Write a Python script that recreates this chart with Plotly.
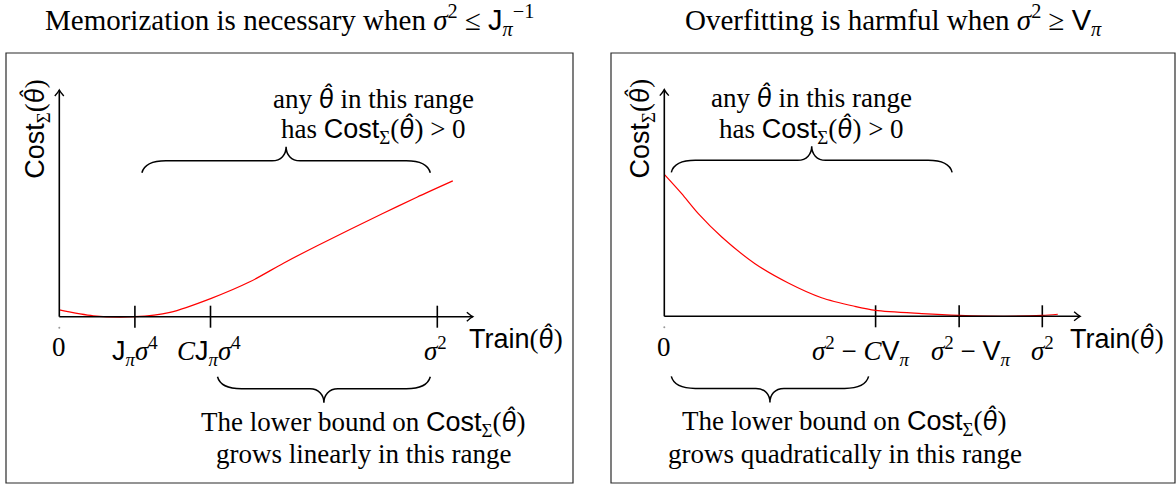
import plotly.graph_objects as go

# ---------------- data ----------------
# Left panel ("Memorization is necessary"): Train axis scaled so that sigma^2 = 1
left_train = [0.0, 0.09, 0.20, 0.293, 0.402, 0.504, 0.593, 0.681, 0.857, 0.946, 1.041]
left_cost = [0.030, 0.004, 0.0, 0.019, 0.081, 0.154, 0.236, 0.312, 0.456, 0.527, 0.599]
left_tick_vals = [0.0, 0.2, 0.4, 1.0]
# Right panel ("Overfitting is harmful")
right_train = [0.0, 0.046, 0.090, 0.152, 0.240, 0.328, 0.416, 0.504, 0.559, 0.681, 0.780, 0.901, 1.0, 1.041]
right_cost = [0.626, 0.541, 0.453, 0.350, 0.232, 0.147, 0.082, 0.044, 0.026, 0.012, 0.004, 0.0, 0.004, 0.009]
right_tick_vals = [0.0, 0.559, 0.780, 1.0]

SANS = "<span style=\"font-family:'Liberation Sans'\">%s</span>"
TH = "<span style=\"font-family:'Lato'\"><i>θ\u0302</i></span>"
left_tick_text = ["0",
                  SANS % "J" + "<sub><i>π</i></sub><i>σ</i><sup>4</sup>",
                  "<i>C</i>" + SANS % "J" + "<sub><i>π</i></sub><i>σ</i><sup>4</sup>",
                  "<i>σ</i><sup>2</sup>"]
right_tick_text = ["0",
                   "<i>σ</i><sup>2</sup> − <i>C</i>" + SANS % "V" + "<sub><i>π</i></sub>",
                   "<i>σ</i><sup>2</sup> − " + SANS % "V" + "<sub><i>π</i></sub>",
                   "<i>σ</i><sup>2</sup>"]
left_label_shift = [0, 0, -2, -2]
right_label_shift = [0, -15, 12, 0]

titles = ["Memorization is necessary when <i>σ</i><sup>2</sup> ≤ " + SANS % "J" + "<sub><i>π</i></sub><sup>−1</sup>",
          "Overfitting is harmful when <i>σ</i><sup>2</sup> ≥ " + SANS % "V" + "<sub><i>π</i></sub>"]
upper_lines = ["any " + TH + " in this range",
               "has " + SANS % "Cost" + "<sub>Σ</sub>(" + TH + ") > 0"]
lower_lines = [["The lower bound on " + SANS % "Cost" + "<sub>Σ</sub>(" + TH + ")", "grows linearly in this range"],
               ["The lower bound on " + SANS % "Cost" + "<sub>Σ</sub>(" + TH + ")", "grows quadratically in this range"]]
ylabel = SANS % "Cost" + "<sub>Σ</sub>(" + TH + ")"
xlabel = SANS % "Train" + "(" + TH + ")"

# brace ranges (in Train units), referring to the ticks
left_upper_brace = (left_tick_vals[1], left_tick_vals[3])
left_lower_brace = (left_tick_vals[2], left_tick_vals[3])
right_upper_brace = (right_tick_vals[0], right_tick_vals[2])
right_lower_brace = (right_tick_vals[0], right_tick_vals[1])

# ---------------- layout constants ----------------
W, H = 1176, 487
PXX, PXY = 378.0, 226.7          # pixels per data unit
FONT = "Liberation Serif"
FS = 27
TITLE_FS = 29
boxes = [(6, 53, 573, 483), (611, 53, 1175, 483)]
origins = [(59.3, 316.7), (664.3, 316.3)]
arrow_x = [1.094, 1.1]
arrow_y = 1.0
tick_half = 11 / PXY
brace_inset = 7 / PXX
upper_y = [0.969, 0.824]
lower_y = [-0.465, -0.606]

fig = go.Figure()

panels = [
    dict(train=left_train, cost=left_cost, ticks=left_tick_vals, ttext=left_tick_text, shift=left_label_shift,
         ub=left_upper_brace, lb=left_lower_brace, utx=0.83, ltx=0.806, xlab=1.207),
    dict(train=right_train, cost=right_cost, ticks=right_tick_vals, ttext=right_tick_text, shift=right_label_shift,
         ub=right_upper_brace, lb=right_lower_brace, utx=0.389, ltx=0.477, xlab=1.198),
]

shapes = []
annotations = []


def brace_path(x0, x1, ytip, d):
    r1, r2 = 24 / PXX, 14 / PXX
    h1, h2 = d * 12 / PXY, d * 14 / PXY
    xm = (x0 + x1) / 2
    yf = ytip + h1
    yp = yf + h2
    return (f"M{x0},{ytip} C{x0 + 0.1 * r1},{ytip + 0.75 * h1} {x0 + 0.45 * r1},{yf} {x0 + r1},{yf} "
            f"L{xm - r2},{yf} C{xm - 0.35 * r2},{yf} {xm},{yf + 0.45 * h2} {xm},{yp} "
            f"C{xm},{yf + 0.45 * h2} {xm + 0.35 * r2},{yf} {xm + r2},{yf} "
            f"L{x1 - r1},{yf} C{x1 - 0.45 * r1},{yf} {x1 - 0.1 * r1},{ytip + 0.75 * h1} {x1},{ytip}")


for i, p in enumerate(panels):
    xa = "x" if i == 0 else "x2"
    ya = "y" if i == 0 else "y2"
    bx0, by0, bx1, by1 = boxes[i]
    ox, oy = origins[i]
    axis_kw = dict(visible=False, fixedrange=True)
    xaxis = dict(domain=[bx0 / W, bx1 / W], range=[(bx0 - ox) / PXX, (bx1 - ox) / PXX], anchor=ya, **axis_kw)
    yaxis = dict(domain=[(H - by1) / H, (H - by0) / H], range=[(oy - by1) / PXY, (oy - by0) / PXY], anchor=xa, **axis_kw)
    if i == 0:
        fig.update_layout(xaxis=xaxis, yaxis=yaxis)
    else:
        fig.update_layout(xaxis2=xaxis, yaxis2=yaxis)

    # frame
    shapes.append(dict(type="rect", xref=f"{xa} domain", yref=f"{ya} domain", x0=0, x1=1, y0=0, y1=1,
                       line=dict(color="#2a2a2a", width=1.2)))
    # axes
    shapes.append(dict(type="line", xref=xa, yref=ya, x0=0, y0=0, x1=arrow_x[i], y1=0,
                       line=dict(color="black", width=1.6)))
    shapes.append(dict(type="line", xref=xa, yref=ya, x0=0, y0=0, x1=0, y1=arrow_y,
                       line=dict(color="black", width=1.6)))
    shapes.append(dict(type="path", xref=xa, yref=ya, xsizemode="pixel", ysizemode="pixel",
                       xanchor=arrow_x[i], yanchor=0, path="M-6,4.5 Q-2,1 0,0 Q-2,-1 -6,-4.5",
                       line=dict(color="black", width=1.4)))
    shapes.append(dict(type="path", xref=xa, yref=ya, xsizemode="pixel", ysizemode="pixel",
                       xanchor=0, yanchor=arrow_y, path="M-4.5,-6 Q-1,-2 0,0 Q1,-2 4.5,-6",
                       line=dict(color="black", width=1.4)))
    # braces
    shapes.append(dict(type="path", xref=xa, yref=ya,
                       path=brace_path(p["ub"][0] + brace_inset, p["ub"][1] - brace_inset, 0.635, 1),
                       line=dict(color="black", width=1.5)))
    shapes.append(dict(type="path", xref=xa, yref=ya,
                       path=brace_path(p["lb"][0] + brace_inset, p["lb"][1] - brace_inset, -0.265, -1),
                       line=dict(color="black", width=1.5)))

    # tick marks
    tx, ty = [], []
    for v in p["ticks"]:
        if v == 0:
            continue
        tx += [v, v, None]
        ty += [-tick_half, tick_half, None]
    fig.add_trace(go.Scatter(x=tx, y=ty, mode="lines", line=dict(color="black", width=1.6),
                             xaxis=xa, yaxis=ya, hoverinfo="skip"))
    fig.add_trace(go.Scatter(x=[0], y=[-tick_half], mode="markers", marker=dict(color="#999", size=2),
                             xaxis=xa, yaxis=ya, hoverinfo="skip"))
    # red curve
    fig.add_trace(go.Scatter(x=p["train"], y=p["cost"], mode="lines",
                             line=dict(color="red", width=1.2, shape="spline", smoothing=0.8),
                             xaxis=xa, yaxis=ya, hoverinfo="skip"))

    # tick labels
    for v, t, s in zip(p["ticks"], p["ttext"], p["shift"]):
        annotations.append(dict(x=v, y=-0.06, xref=xa, yref=ya, text=t, showarrow=False,
                                xanchor="center", yanchor="top", xshift=s))
    # axis labels
    annotations.append(dict(x=p["xlab"], y=-0.092, xref=xa, yref=ya, text=xlabel, showarrow=False,
                            xanchor="center", yanchor="middle"))
    annotations.append(dict(x=-0.062, y=0.828, xref=xa, yref=ya, text=ylabel, showarrow=False,
                            textangle=-90, xanchor="center", yanchor="middle"))
    # brace texts
    for line, yy in zip(upper_lines, upper_y):
        annotations.append(dict(x=p["utx"], y=yy, xref=xa, yref=ya, text=line, showarrow=False,
                                xanchor="center", yanchor="middle"))
    for line, yy in zip(lower_lines[i], lower_y):
        annotations.append(dict(x=p["ltx"], y=yy, xref=xa, yref=ya, text=line, showarrow=False,
                                xanchor="center", yanchor="middle"))
    # title
    annotations.append(dict(x=0.5, y=(H - 20) / H, xref=f"{xa} domain", yref="paper", text=titles[i],
                            showarrow=False, xanchor="center", yanchor="middle",
                            font=dict(size=TITLE_FS)))

fig.update_layout(width=W, height=H, margin=dict(l=0, r=0, t=0, b=0), autosize=False,
                  paper_bgcolor="white", plot_bgcolor="white", showlegend=False,
                  font=dict(family=FONT, size=FS, color="black"),
                  shapes=shapes, annotations=annotations)

fig.write_html("out.html", config={"displayModeBar": False},
               post_script="document.body.style.margin='0';")
